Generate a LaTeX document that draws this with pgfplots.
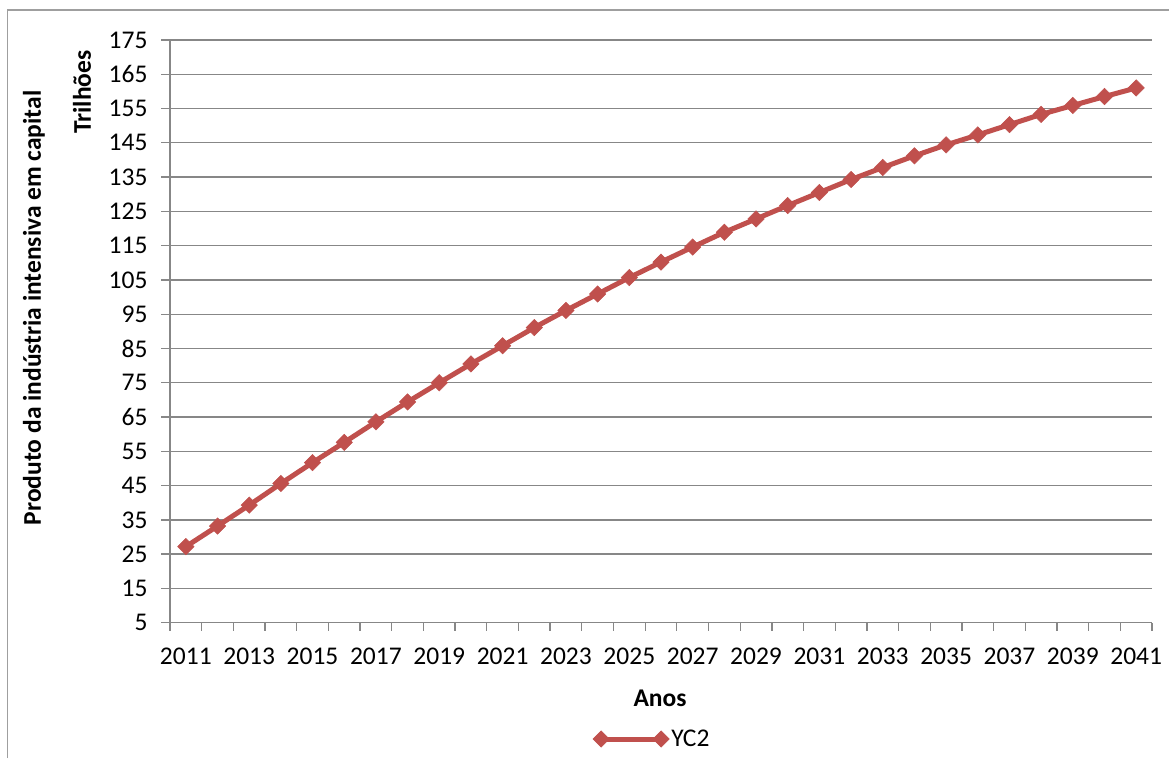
\documentclass[border=0pt]{standalone}
\usepackage{pgfplots}
\pgfplotsset{compat=1.18}
\usepackage{fontspec}
\setmainfont{Carlito}
\definecolor{exred}{HTML}{C0504D}
\definecolor{gridgray}{HTML}{878787}
\begin{document}
\begin{tikzpicture}[x=1pt,y=1pt]
\path[use as bounding box] (0,0) rectangle (1169,758);
\draw[color=gridgray!80, line width=1.2pt] (7.5,0) -- (7.5,748) -- (1169,748);
\begin{axis}[
  at={(170pt,135.3pt)}, anchor=south west,
  width=982pt, height=582.7pt, scale only axis,
  xmin=-0.5, xmax=30.5, ymin=5, ymax=175,
  axis x line=bottom, axis y line=left,
  axis line style={-, draw=gridgray, line width=1.3pt},
  ytick={5,15,...,175},
  xtick={0,2,...,30},
  xticklabels={2011,2013,2015,2017,2019,2021,2023,2025,2027,2029,2031,2033,2035,2037,2039,2041},
  minor xtick={-0.5,0.5,...,30.5},
  xtick style={draw=none},
  minor x tick style={draw=gridgray, line width=1.3pt},
  ytick style={draw=gridgray, line width=1.3pt},
  tick align=outside,
  major tick length=9pt, minor tick length=8pt,
  ymajorgrids, grid style={draw=gridgray, line width=1.3pt},
  /pgf/number format/assume math mode=true,
  tick label style={font=\fontsize{25.5}{30}\selectfont, text=black},
  xticklabel style={yshift=-13pt},
  yticklabel style={xshift=-10pt},
  legend style={at={(0.491,-0.1996)}, anchor=center, draw=none, fill=none,
    font=\fontsize{25.5}{30}\selectfont, inner sep=0pt,
    /tikz/every even column/.append style={column sep=0pt}},
  legend cell align=left,
  legend image code/.code={\draw[#1, mark repeat=1] plot coordinates {(0pt,0pt) (60pt,0pt)};},
]
\addplot[color=exred, line width=5pt, mark=square*, mark size=5.8pt,
  mark options={rotate=45, line width=0.5pt, solid}]
coordinates {
(0,27.2) (1,33.2) (2,39.3) (3,45.6) (4,51.7) (5,57.6) (6,63.6) (7,69.4)
(8,75.0) (9,80.5) (10,85.8) (11,91.1) (12,96.1) (13,100.9) (14,105.7)
(15,110.2) (16,114.6) (17,118.9) (18,122.8) (19,126.7) (20,130.5)
(21,134.3) (22,137.8) (23,141.2) (24,144.4) (25,147.3) (26,150.3)
(27,153.3) (28,155.9) (29,158.5) (30,161.0)
};
\addlegendentry{YC2}
\end{axis}
\node[rotate=90, font=\fontsize{25.5}{30}\selectfont\bfseries] at (34,450) {Produto da indústria intensiva em capital};
\node[rotate=90, font=\fontsize{25.5}{30}\selectfont\bfseries] at (82,666) {Trilhões};
\node[font=\fontsize{25.5}{30}\selectfont\bfseries] at (660,60) {Anos};
\end{tikzpicture}
\end{document}
